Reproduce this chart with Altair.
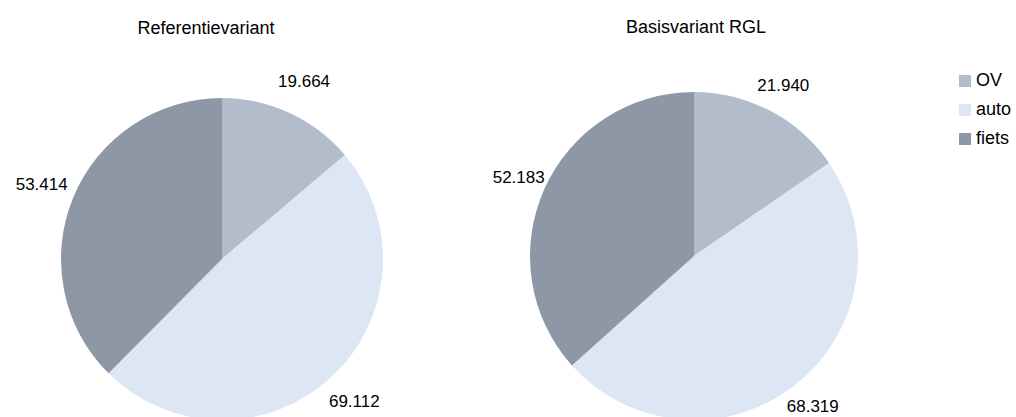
import altair as alt
import pandas as pd

modes = ["OV", "auto", "fiets"]
colors = ["#b3bccb", "#dce6f5", "#8e97a6"]
variants = ["Referentievariant", "Basisvariant RGL"]
values_ref = [19664, 69112, 53414]
values_rgl = [21940, 68319, 52183]

rows = []
for variant, vals in zip(variants, [values_ref, values_rgl]):
    for i, (m, v) in enumerate(zip(modes, vals)):
        rows.append({"variant": variant, "mode": m, "value": v, "idx": i,
                     "label": f"{v:,}".replace(",", ".")})
df = pd.DataFrame(rows)

FONT = "Liberation Sans"

color = alt.Color(
    "mode:N",
    scale=alt.Scale(domain=modes, range=colors),
    sort=modes,
    legend=alt.Legend(
        title=None, orient="none", legendX=956, legendY=-29,
        symbolType="square", symbolSize=144, symbolStrokeWidth=0,
        labelFontSize=18, labelFont=FONT, labelColor="black",
        rowPadding=11, labelOffset=2, padding=0,
    ),
)


def pie(variant, r, label_gap, w, h, dx, title_offset):
    base = alt.Chart(df).transform_filter(alt.datum.variant == variant).encode(
        theta=alt.Theta("value:Q", stack=True),
        order=alt.Order("idx:Q"),
    )
    arcs = base.mark_arc(outerRadius=r).encode(color=color)
    text = base.mark_text(radius=r + label_gap, fontSize=17, font=FONT, color="black").encode(
        text="label:N"
    )
    return (arcs + text).properties(
        width=w, height=h,
        title=alt.TitleParams(
            variant, fontSize=18, fontWeight="normal", font=FONT, color="black",
            baseline="alphabetic", offset=title_offset, frame="group", anchor="middle", dx=dx,
        ),
    )


left = pie(variants[0], 161, 34, 444, 316, -16, 21)
right = pie(variants[1], 164, 28, 444, 310, 2, 26)

chart = (
    alt.hconcat(left, right, spacing=28)
    .resolve_scale(theta="independent", color="shared")
    .resolve_legend(color="shared")
    .properties(
        padding={"left": 0, "top": 19, "right": 0, "bottom": 0},
        background="white",
    )
    .configure_view(strokeWidth=0)
    .configure(font=FONT)
)

chart.save("out.html", embed_options={"renderer": "svg", "actions": False})
